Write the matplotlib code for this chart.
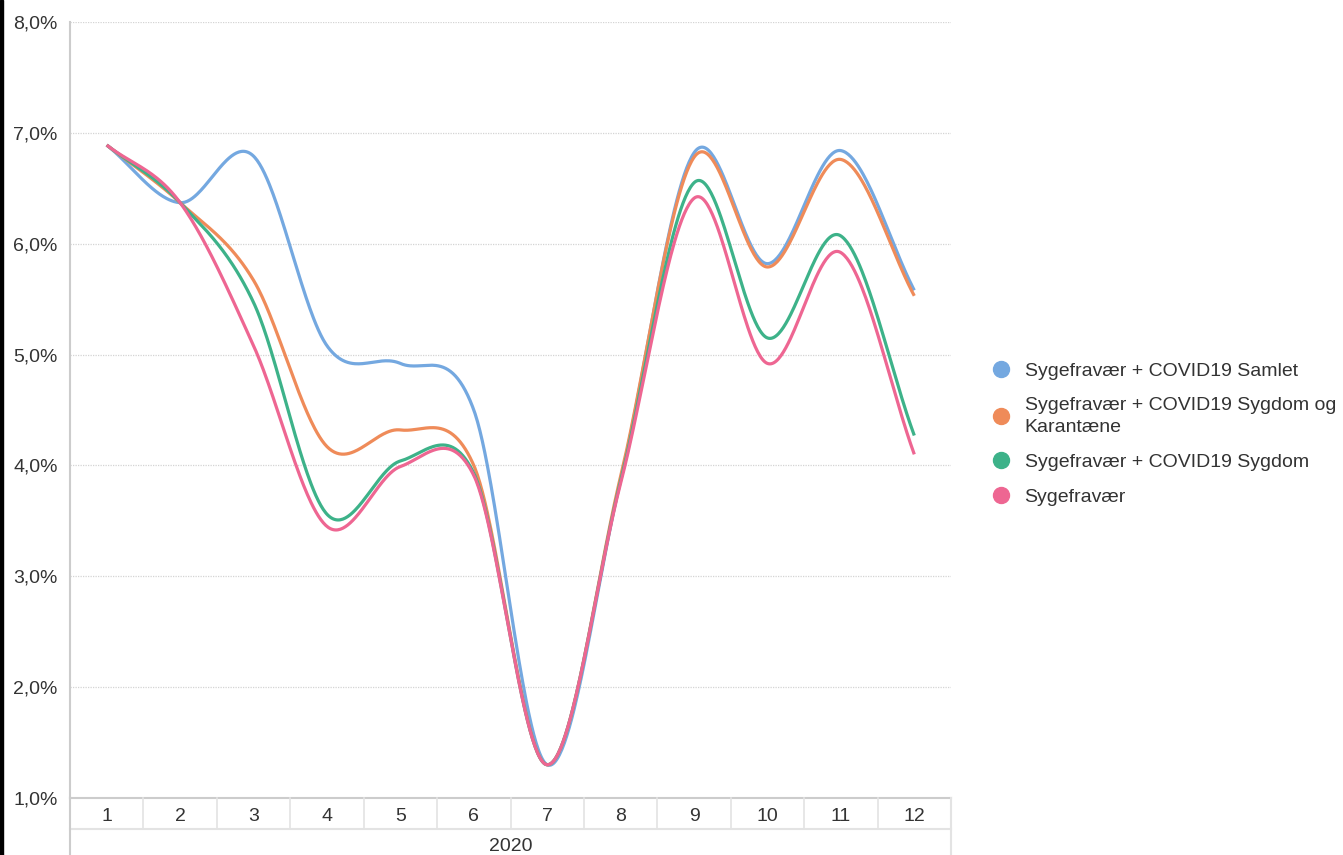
import numpy as np
import matplotlib
matplotlib.use("Agg")
import matplotlib.pyplot as plt
from matplotlib.lines import Line2D
from matplotlib.ticker import FuncFormatter

plt.rcParams['font.family'] = ['Liberation Sans', 'DejaVu Sans']

months = [1, 2, 3, 4, 5, 6, 7, 8, 9, 10, 11, 12]
year_label = "2020"
series_names = [
    "Sygefravær + COVID19 Samlet",
    "Sygefravær + COVID19 Sygdom og\nKarantæne",
    "Sygefravær + COVID19 Sygdom",
    "Sygefravær",
]
samlet = [6.89, 6.37, 6.79, 5.08, 4.92, 4.50, 1.30, 3.87, 6.82, 5.82, 6.84, 5.58]
sygdom_karantaene = [6.89, 6.37, 5.67, 4.17, 4.32, 4.00, 1.30, 3.90, 6.78, 5.79, 6.76, 5.53]
sygdom = [6.89, 6.37, 5.47, 3.56, 4.04, 3.93, 1.30, 3.86, 6.55, 5.15, 6.07, 4.27]
sygefravaer = [6.89, 6.37, 5.08, 3.45, 3.99, 3.91, 1.30, 3.84, 6.41, 4.92, 5.92, 4.10]
colors = ["#74A8E0", "#EF8B59", "#3DB289", "#EE6692"]
y_ticks = [1, 2, 3, 4, 5, 6, 7, 8]


def catmull_rom(x, y, n_per=60):
    x = np.asarray(x, float)
    y = np.asarray(y, float)
    n = len(x)
    m = np.empty(n)
    m[1:-1] = (y[2:] - y[:-2]) / (x[2:] - x[:-2])
    m[0] = (y[1] - y[0]) / (x[1] - x[0])
    m[-1] = (y[-1] - y[-2]) / (x[-1] - x[-2])
    xs_all, ys_all = [], []
    for i in range(n - 1):
        h = x[i + 1] - x[i]
        t = np.linspace(0, 1, n_per, endpoint=(i == n - 2))
        h00 = 2 * t**3 - 3 * t**2 + 1
        h10 = t**3 - 2 * t**2 + t
        h01 = -2 * t**3 + 3 * t**2
        h11 = t**3 - t**2
        xs_all.append(x[i] + t * h)
        ys_all.append(h00 * y[i] + h10 * h * m[i] + h01 * y[i + 1] + h11 * h * m[i + 1])
    return np.concatenate(xs_all), np.concatenate(ys_all)


W, H = 1343, 855
fig = plt.figure(figsize=(W / 100, H / 100), dpi=100)
L, R, T, B = 70, 951, 22, 798
ax = fig.add_axes([L / W, 1 - B / H, (R - L) / W, (B - T) / H])

data = [samlet, sygdom_karantaene, sygdom, sygefravaer]
for vals, col in zip(data, colors):
    sx, sy = catmull_rom(months, vals)
    ax.plot(sx, sy, color=col, lw=2.3, solid_capstyle='butt', zorder=3)

ax.set_xlim(0.5, 12.5)
ax.set_ylim(1, 8)
ax.set_yticks(y_ticks)
ax.yaxis.set_major_formatter(FuncFormatter(lambda v, p: f"{v:.1f}%".replace(".", ",")))
ax.set_xticks(months)
ax.set_xticklabels([str(m) for m in months])
ax.tick_params(axis='y', length=0, pad=9, labelsize=14, labelcolor="#333333")
ax.tick_params(axis='x', length=0, pad=7, labelsize=14, labelcolor="#333333")
ax.grid(axis='y', color="#d4d4d4", linestyle=(0, (1, 1)), lw=0.9)
ax.set_axisbelow(True)
for s in ['top', 'right', 'bottom']:
    ax.spines[s].set_visible(False)
ax.spines['left'].set_color("#cccccc")
ax.spines['left'].set_linewidth(1.5)

# x axis line and category grid
ph = B - T
row1 = -(829 - B) / ph
bottom = -(H - B) / ph
ax.plot([0, 1], [0, 0], transform=ax.transAxes, color="#cccccc", lw=1.5, clip_on=False)
ax.plot([0, 1], [row1, row1], transform=ax.transAxes, color="#e3e3e3", lw=1.5, clip_on=False)
ax.plot([0, 0], [0, bottom], transform=ax.transAxes, color="#cccccc", lw=1.5, clip_on=False)
ax.plot([1, 1], [0, bottom], transform=ax.transAxes, color="#e3e3e3", lw=1.5, clip_on=False)
for i in range(1, 12):
    xf = i / 12
    ax.plot([xf, xf], [0, row1], transform=ax.transAxes, color="#e3e3e3", lw=1.2, clip_on=False)
ax.text(0.5, -(846 - B) / ph, year_label, transform=ax.transAxes, ha='center', va='center',
        fontsize=14, color="#333333")

# legend
handles = [Line2D([], [], marker='o', linestyle='none', markersize=11.5,
                  markerfacecolor=c, markeredgecolor=c) for c in colors]
leg = fig.legend(handles, series_names, loc='center left', bbox_to_anchor=(974 / W, 1 - 434 / H),
                 frameon=False, fontsize=14, handletextpad=0.7, labelspacing=0.9,
                 handlelength=1.0, labelcolor="#333333")
for t in leg.get_texts():
    t.set_linespacing(1.35)

# left black edge
fig.patches.append(matplotlib.patches.Rectangle((0, 0), 2.5 / W, 1, transform=fig.transFigure,
                                                color="black", zorder=10))

fig.savefig("out.png", dpi=100)
